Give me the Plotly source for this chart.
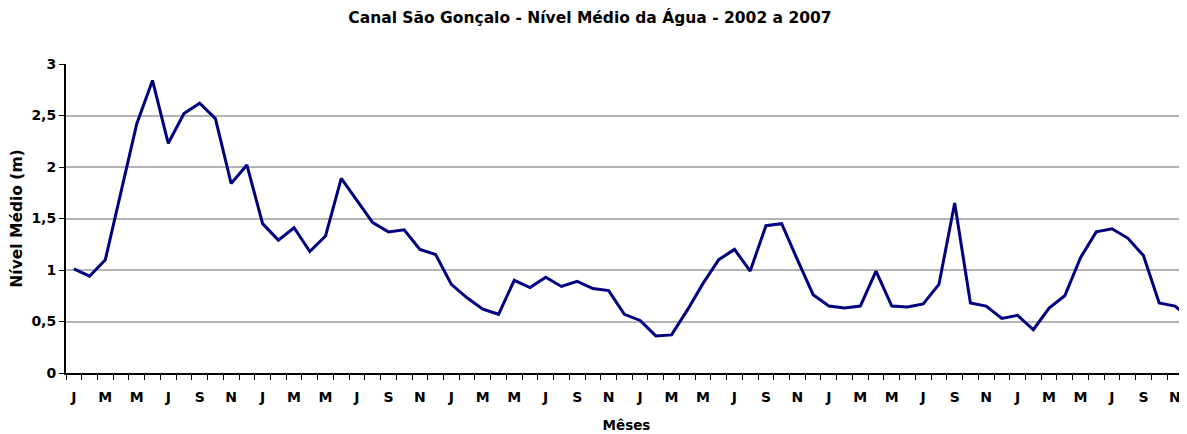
import plotly.graph_objects as go

month_initials = ["J", "F", "M", "A", "M", "J", "J", "A", "S", "O", "N", "D"]
years = [2002, 2003, 2004, 2005, 2006, 2007]
categories = [m for y in years for m in month_initials]

nivel_medio = [
    1.01, 0.94, 1.10, 1.77, 2.42, 2.84, 2.23, 2.52, 2.62, 2.47, 1.84, 2.02,
    1.45, 1.29, 1.41, 1.18, 1.33, 1.89, 1.68, 1.46, 1.37, 1.39, 1.20, 1.15,
    0.86, 0.73, 0.62, 0.57, 0.90, 0.83, 0.93, 0.84, 0.89, 0.82, 0.80, 0.57,
    0.51, 0.36, 0.37, 0.61, 0.87, 1.10, 1.20, 0.99, 1.43, 1.45, 1.10, 0.76,
    0.65, 0.63, 0.65, 0.99, 0.65, 0.64, 0.67, 0.86, 1.65, 0.68, 0.65, 0.53,
    0.56, 0.42, 0.63, 0.75, 1.12, 1.37, 1.40, 1.31, 1.14, 0.68, 0.65, 0.53,
]

y_ticks = [0, 0.5, 1, 1.5, 2, 2.5, 3]

x_idx = list(range(len(categories)))
label_idx = x_idx[::2]
label_txt = [categories[i] for i in label_idx]

FONT = "DejaVu Sans, Liberation Sans, Arial, sans-serif"

fig = go.Figure()
fig.add_trace(go.Scatter(
    x=x_idx, y=nivel_medio, mode="lines",
    line=dict(color="#000080", width=3),
    hoverinfo="skip", showlegend=False,
))

# the page body adds an 8px margin, so the figure is 8px smaller in each direction
fig.update_layout(
    width=1179, height=426,
    margin=dict(l=58, r=0, t=56, b=61, autoexpand=False),
    paper_bgcolor="white", plot_bgcolor="white",
    separators=",.",
    font=dict(family=FONT, color="black", size=14),
    title=dict(
        text="Canal São Gonçalo - Nível Médio da Água - 2002 a 2007",
        x=0.4936, xanchor="center", xref="container",
        y=0.9765, yanchor="middle", yref="container",
        automargin=False,
        font=dict(family=FONT, size=15.5, weight="bold", color="black"),
    ),
    xaxis=dict(
        range=[-0.5, 70.77], automargin=False,
        tickmode="array", tickvals=label_idx, ticktext=label_txt,
        ticks="", showgrid=False, zeroline=False,
        showline=True, linecolor="black", linewidth=2,
        ticklabelstandoff=10,
        tickfont=dict(family=FONT, size=14, weight="bold"),
        minor=dict(tickmode="linear", tick0=-0.5, dtick=1, ticks="outside",
                   ticklen=5, tickwidth=1, tickcolor="black", showgrid=False),
        title=dict(text="Mêses", standoff=17,
                   font=dict(family=FONT, size=13.5, weight="bold")),
    ),
    yaxis=dict(
        range=[0, 3], tickmode="array", tickvals=y_ticks, automargin=False,
        ticks="outside", ticklen=5, tickwidth=1, tickcolor="black",
        showgrid=True, gridcolor="#b4b4b4", gridwidth=1.5,
        zeroline=False, showline=True, linecolor="black", linewidth=2,
        tickfont=dict(family=FONT, size=14, weight="bold"),
        title=dict(text="Nível Médio (m)", standoff=6,
                   font=dict(family=FONT, size=15.5, weight="bold")),
    ),
)

fig.write_html("out.html")
